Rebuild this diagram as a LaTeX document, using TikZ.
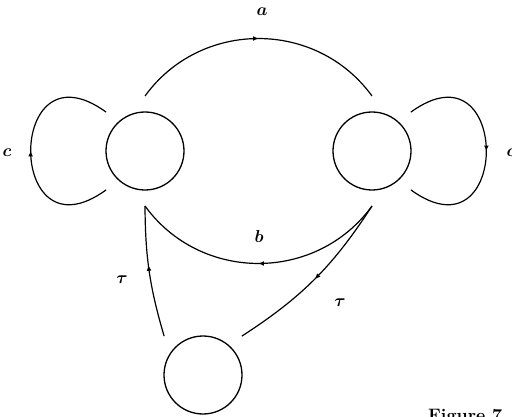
\documentclass[tikz,border=0pt]{standalone}
\usetikzlibrary{arrows.meta,decorations.markings}
\begin{document}
\begin{tikzpicture}[x=1pt,y=1pt,
  state/.style={circle,draw,line width=1.3pt,minimum size=78pt,inner sep=0pt,outer sep=16pt},
  edge/.style={line width=1.2pt,postaction={decorate},
    decoration={markings,mark=at position #1 with {\arrow{Latex[length=5.5pt,width=5pt]}}}},
  edge/.default=0.5,
  lab/.style={font=\fontsize{17}{20}\selectfont\boldmath,inner sep=0pt}]
\useasboundingbox (0,0) rectangle (512,-417);
\node[state] (L) at (145,-151) {};
\node[state] (R) at (372,-151) {};
\node[state] (B) at (203,-375) {};
% a
\draw[edge] (L.90) to[bend left=54,looseness=1.07] (R.90);
\node[lab] (la) at (262,-12) {$a$};
% b
\draw[edge] (R.270) to[bend left=54,looseness=1.07] (L.270);
\node[lab] (lb) at (259,-237) {$b$};
% loops
\draw[edge] (L.225) to[out=216,in=144,looseness=4.1] (L.135);
\node[lab] (lc1) at (7,-153) {$c$};
\draw[edge] (R.45) to[out=36,in=-36,looseness=4.1] (R.-45);
\node[lab] (lc2) at (511,-153) {$c$};
% tau edges
\draw[edge=0.55] (B.135) to[bend left=8] (L.270);
\node[lab] (lt1) at (122,-280) {$\tau$};
\draw[edge] (R.270) to[bend left=12] (B.45);
\node[lab] (lt2) at (340,-303) {$\tau$};
% caption
\node[anchor=base west,inner sep=0pt,font=\fontsize{18}{21}\selectfont\bfseries] (cap) at (428,-421) {Figure 7};
\end{tikzpicture}
\end{document}
